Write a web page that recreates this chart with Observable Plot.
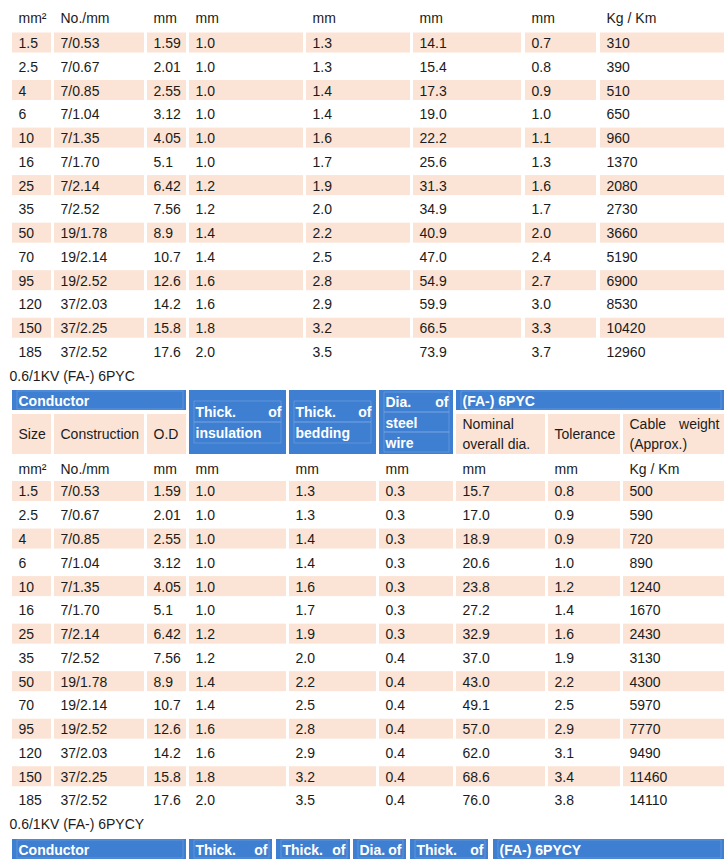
<!DOCTYPE html>
<html>
<head>
<meta charset="utf-8">
<script src="https://cdn.jsdelivr.net/npm/d3@7"></script>
<script src="https://cdn.jsdelivr.net/npm/@observablehq/plot@0.6"></script>
<style>
html,body{margin:0;padding:0;background:#fff;}
#chart svg{display:block;}
</style>
</head>
<body>
<div id="chart"></div>
<script>
// ---------- data ----------
const sizes = ["1.5","2.5","4","6","10","16","25","35","50","70","95","120","150","185"];
const construction = ["7/0.53","7/0.67","7/0.85","7/1.04","7/1.35","7/1.70","7/2.14","7/2.52","19/1.78","19/2.14","19/2.52","37/2.03","37/2.25","37/2.52"];
const conductorOD = ["1.59","2.01","2.55","3.12","4.05","5.1","6.42","7.56","8.9","10.7","12.6","14.2","15.8","17.6"];
const insulation = ["1.0","1.0","1.0","1.0","1.0","1.0","1.2","1.2","1.4","1.4","1.6","1.6","1.8","2.0"];
const bedding = ["1.3","1.3","1.4","1.4","1.6","1.7","1.9","2.0","2.2","2.5","2.8","2.9","3.2","3.5"];
// upper table (previous type, continued)
const t1OverallDia = ["14.1","15.4","17.3","19.0","22.2","25.6","31.3","34.9","40.9","47.0","54.9","59.9","66.5","73.9"];
const t1Tolerance = ["0.7","0.8","0.9","1.0","1.1","1.3","1.6","1.7","2.0","2.4","2.7","3.0","3.3","3.7"];
const t1Weight = ["310","390","510","650","960","1370","2080","2730","3660","5190","6900","8530","10420","12960"];
const t1Units = ["mm²","No./mm","mm","mm","mm","mm","mm","Kg / Km"];
// 6PYC table
const t2SteelWire = ["0.3","0.3","0.3","0.3","0.3","0.3","0.3","0.4","0.4","0.4","0.4","0.4","0.4","0.4"];
const t2OverallDia = ["15.7","17.0","18.9","20.6","23.8","27.2","32.9","37.0","43.0","49.1","57.0","62.0","68.6","76.0"];
const t2Tolerance = ["0.8","0.9","0.9","1.0","1.2","1.4","1.6","1.9","2.2","2.5","2.9","3.1","3.4","3.8"];
const t2Weight = ["500","590","720","890","1240","1670","2430","3130","4300","5970","7770","9490","11460","14110"];
const t2Units = ["mm²","No./mm","mm","mm","mm","mm","mm","mm","Kg / Km"];
const title2 = "0.6/1KV (FA-) 6PYC";
const title3 = "0.6/1KV (FA-) 6PYCY";
const t2GroupA = "Conductor";
const t2GroupB = "(FA-) 6PYC";
const t2SubA = ["Size","Construction","O.D"];
const t2Tall = [["Thick.","of","insulation"],["Thick.","of","bedding"],["Dia.","of","steel","wire"]];
const t2SubB = [["Nominal","overall dia."],["Tolerance"],["Cable","weight","(Approx.)"]];
const t3Heads = [["Conductor"],["Thick.","of"],["Thick.","of"],["Dia.","of"],["Thick.","of"],["(FA-) 6PYCY"]];

// ---------- layout ----------
const W = 726, H = 863;
const PEACH = "#fbe4d5", BLUE = "#3e7fd1", LINE = "#8db2e6", INK = "#1b1b1b";
const pitch = 23.77, half = 10, pad = 6;
const t1Cols = [[12,51],[54,144],[147,186],[189,303],[306,410],[413,521],[525,596],[600,724]];
const t2Cols = [[12,51],[54,144],[147,186],[189,286],[289,376],[379,453],[456,545],[548,620],[623,724]];
const t3Cols = [[12,186],[189,272],[276,350],[353,406],[410,488],[493,724]];

const peachCells = [], blueCells = [], lineBoxes = [];
const txt = [], txtEnd = [], bold = [], boldEnd = [];

function dataTable(cols, columns, units, unitsY, y0) {
  units.forEach((u, j) => txt.push({x: cols[j][0] + pad, y: unitsY, t: u}));
  for (let i = 0; i < sizes.length; i++) {
    const yc = y0 + i * pitch;
    columns.forEach((arr, j) => {
      if (i % 2 === 0) peachCells.push({x1: cols[j][0], x2: cols[j][1], y1: yc - half, y2: yc + half});
      txt.push({x: cols[j][0] + pad, y: yc, t: arr[i]});
    });
  }
}

// upper table
dataTable(t1Cols, [sizes, construction, conductorOD, insulation, bedding, t1OverallDia, t1Tolerance, t1Weight], t1Units, 18, 42.5);

// title 2
txt.push({x: 9, y: 376, t: title2});

// 6PYC header
const hTop = 390, hMid1 = 410, hMid2 = 414, hBot = 454;
blueCells.push({x1: t2Cols[0][0], x2: t2Cols[2][1], y1: hTop, y2: hMid1});
lineBoxes.push({x1: t2Cols[0][0] + 5, x2: t2Cols[2][1] - 3, y1: hTop + 1, y2: hMid1 - 1});
bold.push({x: t2Cols[0][0] + pad, y: 401, t: t2GroupA});
blueCells.push({x1: t2Cols[6][0], x2: t2Cols[8][1], y1: hTop, y2: hMid1});
lineBoxes.push({x1: t2Cols[6][0] + 5, x2: t2Cols[8][1] - 3, y1: hTop + 1, y2: hMid1 - 1});
bold.push({x: t2Cols[6][0] + pad, y: 401, t: t2GroupB});
t2SubA.forEach((s, j) => {
  peachCells.push({x1: t2Cols[j][0], x2: t2Cols[j][1], y1: hMid2, y2: hBot});
  txt.push({x: t2Cols[j][0] + pad, y: 434, t: s});
});
t2Tall.forEach((h, k) => {
  const c = t2Cols[3 + k];
  blueCells.push({x1: c[0], x2: c[1], y1: hTop, y2: hBot});
  if (h.length === 3) {
    lineBoxes.push({x1: c[0] + 5, x2: c[1] - 5, y1: 401, y2: 422});
    lineBoxes.push({x1: c[0] + 5, x2: c[1] - 5, y1: 422, y2: 443});
    bold.push({x: c[0] + pad, y: 412, t: h[0]});
    boldEnd.push({x: c[1] - 5, y: 412, t: h[1]});
    bold.push({x: c[0] + pad, y: 433, t: h[2]});
  } else {
    lineBoxes.push({x1: c[0] + 5, x2: c[1] - 4, y1: 392, y2: 412});
    lineBoxes.push({x1: c[0] + 5, x2: c[1] - 4, y1: 412, y2: 432});
    lineBoxes.push({x1: c[0] + 5, x2: c[1] - 4, y1: 432, y2: 452});
    bold.push({x: c[0] + pad, y: 402, t: h[0]});
    boldEnd.push({x: c[1] - 5, y: 402, t: h[1]});
    bold.push({x: c[0] + pad, y: 423, t: h[2]});
    bold.push({x: c[0] + pad, y: 443, t: h[3]});
  }
});
t2SubB.forEach((h, k) => {
  const c = t2Cols[6 + k];
  peachCells.push({x1: c[0], x2: c[1], y1: hMid2, y2: hBot});
  if (h.length === 1) txt.push({x: c[0] + pad, y: 434, t: h[0]});
  else if (h.length === 2) {
    txt.push({x: c[0] + pad, y: 424, t: h[0]});
    txt.push({x: c[0] + pad, y: 444, t: h[1]});
  } else {
    txt.push({x: c[0] + pad, y: 424, t: h[0]});
    txtEnd.push({x: c[1] - 5, y: 424, t: h[1]});
    txt.push({x: c[0] + pad, y: 444, t: h[2]});
  }
});

// 6PYC data
dataTable(t2Cols, [sizes, construction, conductorOD, insulation, bedding, t2SteelWire, t2OverallDia, t2Tolerance, t2Weight], t2Units, 469, 491);

// title 3
txt.push({x: 9, y: 824, t: title3});

// 6PYCY header (cut off)
t3Heads.forEach((h, k) => {
  const c = t3Cols[k];
  blueCells.push({x1: c[0], x2: c[1], y1: 839, y2: 859});
  lineBoxes.push({x1: c[0] + 5, x2: c[1] - 3, y1: 840, y2: 858});
  bold.push({x: c[0] + pad, y: 850, t: h[0]});
  if (h.length > 1) boldEnd.push({x: c[1] - 5, y: 850, t: h[1]});
});

const font = "'Liberation Sans', Arial, Helvetica, sans-serif";
const common = {x: "x", y: "y", text: "t", fontFamily: font, fontSize: 14, lineAnchor: "middle", dy: 0.5};

const chart = Plot.plot({
  width: W, height: H,
  marginTop: 0, marginRight: 0, marginBottom: 0, marginLeft: 0,
  x: {type: "linear", domain: [0, W], range: [0, W], axis: null},
  y: {type: "linear", domain: [0, H], range: [0, H], axis: null},
  style: {background: "#fff", fontFamily: font},
  marks: [
    Plot.rect(peachCells, {x1: "x1", x2: "x2", y1: "y1", y2: "y2", fill: PEACH, inset: 0}),
    Plot.rect(blueCells, {x1: "x1", x2: "x2", y1: "y1", y2: "y2", fill: BLUE, inset: 0}),
    Plot.rect(lineBoxes, {x1: "x1", x2: "x2", y1: "y1", y2: "y2", fill: "none", stroke: LINE, strokeWidth: 0.6, strokeOpacity: 0.7, inset: 0}),
    Plot.text(txt, {...common, textAnchor: "start", fill: INK}),
    Plot.text(txtEnd, {...common, textAnchor: "end", fill: INK}),
    Plot.text(bold, {...common, textAnchor: "start", fill: "#fff", fontWeight: "bold"}),
    Plot.text(boldEnd, {...common, textAnchor: "end", fill: "#fff", fontWeight: "bold"})
  ]
});
document.getElementById("chart").appendChild(chart);
</script>
</body>
</html>
